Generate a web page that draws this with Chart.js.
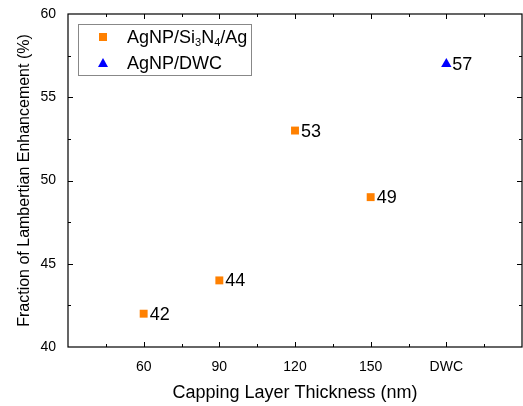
<!DOCTYPE html>
<html>
<head>
<meta charset="utf-8">
<script src="https://cdn.jsdelivr.net/npm/chart.js@4.4.1/dist/chart.umd.min.js"></script>
<style>
  html, body { margin: 0; padding: 0; background: #fff; }
  #wrap { width: 523px; height: 406px; position: relative; }
</style>
</head>
<body>
<div id="wrap"><canvas id="chart"></canvas></div>
<script>
const thicknessLabels = ["60", "90", "120", "150", "DWC"];
const thicknessValues = [60, 90, 120, 150, 180];
const si3n4X = [60, 90, 120, 150];
const si3n4Values = [42, 44, 53, 49];
const dwcX = [180];
const dwcValues = [57];
const yTicks = [40, 45, 50, 55, 60];

const FONT = "'Liberation Sans', Arial, sans-serif";
const ORANGE = "#FF8000";
const BLUE = "#0000FF";

// inward ticks + full frame
const framePlugin = {
    id: "frame",
    afterDatasetsDraw(chart) {
        const { ctx, chartArea: a, scales: { x, y } } = chart;
        ctx.save();
        ctx.strokeStyle = "#000";
        ctx.lineWidth = 1.2;
        ctx.strokeRect(a.left, a.top, a.right - a.left, a.bottom - a.top);
        ctx.lineWidth = 1;
        ctx.beginPath();
        for (let v = 45; v < 210; v += 15) {
            const px = Math.round(x.getPixelForValue(v)) + 0.5;
            const len = (v % 30 === 0) ? 5 : 3;
            ctx.moveTo(px, a.bottom); ctx.lineTo(px, a.bottom - len);
            ctx.moveTo(px, a.top); ctx.lineTo(px, a.top + len);
        }
        for (let v = 42.5; v < 60; v += 2.5) {
            const py = Math.round(y.getPixelForValue(v)) + 0.5;
            const len = (v % 5 === 0) ? 5 : 3;
            ctx.moveTo(a.left, py); ctx.lineTo(a.left + len, py);
            ctx.moveTo(a.right, py); ctx.lineTo(a.right - len, py);
        }
        ctx.stroke();
        ctx.restore();
    }
};

const valueLabels = {
    id: "valueLabels",
    afterDatasetsDraw(chart) {
        const { ctx } = chart;
        ctx.save();
        ctx.font = "18px " + FONT;
        ctx.fillStyle = "#000";
        ctx.textBaseline = "middle";
        ctx.textAlign = "left";
        chart.data.datasets.forEach((ds, i) => {
            chart.getDatasetMeta(i).data.forEach((pt, j) => {
                ctx.fillText(String(ds.data[j].y), pt.x + 6, pt.y + 1);
            });
        });
        ctx.restore();
    }
};

const legendBox = {
    id: "legendBox",
    afterDraw(chart) {
        const { ctx, chartArea: a } = chart;
        const left = a.left + 10, top = a.top + 10, w = 173, h = 51;
        ctx.save();
        ctx.strokeStyle = "#888";
        ctx.lineWidth = 1;
        ctx.strokeRect(left + 0.5, top + 0.5, w, h);

        // row 1: square marker + AgNP/Si3N4/Ag with subscripts
        const mx = left + 25;
        let ry = top + 13;
        ctx.fillStyle = ORANGE;
        ctx.fillRect(mx - 4, ry - 4, 8, 8);
        ctx.fillStyle = "#000";
        ctx.textBaseline = "middle";
        ctx.textAlign = "left";
        let tx = left + 49;
        const parts = [["AgNP/Si", 0], ["3", 1], ["N", 0], ["4", 1], ["/Ag", 0]];
        parts.forEach(([t, sub]) => {
            ctx.font = (sub ? "11px " : "18px ") + FONT;
            ctx.fillText(t, tx, ry + (sub ? 6 : 1));
            tx += ctx.measureText(t).width;
        });

        // row 2: triangle marker + AgNP/DWC
        ry = top + 39;
        ctx.fillStyle = BLUE;
        ctx.beginPath();
        ctx.moveTo(mx, ry - 5);
        ctx.lineTo(mx + 5, ry + 4);
        ctx.lineTo(mx - 5, ry + 4);
        ctx.closePath();
        ctx.fill();
        ctx.fillStyle = "#000";
        ctx.font = "18px " + FONT;
        ctx.fillText("AgNP/DWC", left + 49, ry + 1);
        ctx.restore();
    }
};

const ctx = document.getElementById("chart").getContext("2d");
new Chart(ctx, {
    type: "scatter",
    data: {
        datasets: [
            {
                label: "AgNP/Si3N4/Ag",
                data: si3n4X.map((x, i) => ({ x: x, y: si3n4Values[i] })),
                pointStyle: "rect",
                pointRadius: 5.6,
                backgroundColor: ORANGE,
                borderColor: ORANGE,
                borderWidth: 0,
            },
            {
                label: "AgNP/DWC",
                data: dwcX.map((x, i) => ({ x: x, y: dwcValues[i] })),
                pointStyle: "triangle",
                pointRadius: 6,
                backgroundColor: BLUE,
                borderColor: BLUE,
                borderWidth: 0,
            },
        ],
    },
    options: {
        responsive: true,
        maintainAspectRatio: false,
        animation: false,
        layout: { autoPadding: false, padding: { left: 0, right: 1, top: 14, bottom: 0 } },
        plugins: {
            legend: { display: false },
            tooltip: { enabled: false },
        },
        scales: {
            x: {
                type: "linear",
                min: 30,
                max: 210,
                afterFit: (s) => { s.height = 59; s.paddingLeft = 0; s.paddingRight = 0; },
                afterBuildTicks: (s) => {
                    s.ticks = thicknessValues.map((v) => ({ value: v }));
                },
                grid: { display: false, drawTicks: false },
                border: { display: false },
                ticks: {
                    autoSkip: false,
                    maxRotation: 0,
                    padding: 12,
                    color: "#000",
                    font: { family: FONT, size: 14 },
                    callback: (v) => {
                        const i = thicknessValues.indexOf(v);
                        return i >= 0 ? thicknessLabels[i] : "";
                    },
                },
                title: {
                    display: true,
                    text: "Capping Layer Thickness (nm)",
                    color: "#000",
                    font: { family: FONT, size: 18 },
                    padding: { top: 0, bottom: 2 },
                },
            },
            y: {
                min: 40,
                max: 60,
                afterFit: (s) => { s.width = 68; s.paddingTop = 0; s.paddingBottom = 0; },
                afterBuildTicks: (s) => {
                    s.ticks = yTicks.map((v) => ({ value: v }));
                },
                grid: { display: false, drawTicks: false },
                border: { display: false },
                ticks: {
                    padding: 12,
                    color: "#000",
                    font: { family: FONT, size: 14 },
                },
                title: {
                    display: true,
                    text: "Fraction of Lambertian Enhancement (%)",
                    color: "#000",
                    font: { family: FONT, size: 16 },
                    padding: { top: 15, bottom: 0 },
                },
            },
        },
    },
    plugins: [framePlugin, valueLabels, legendBox],
});
</script>
</body>
</html>
